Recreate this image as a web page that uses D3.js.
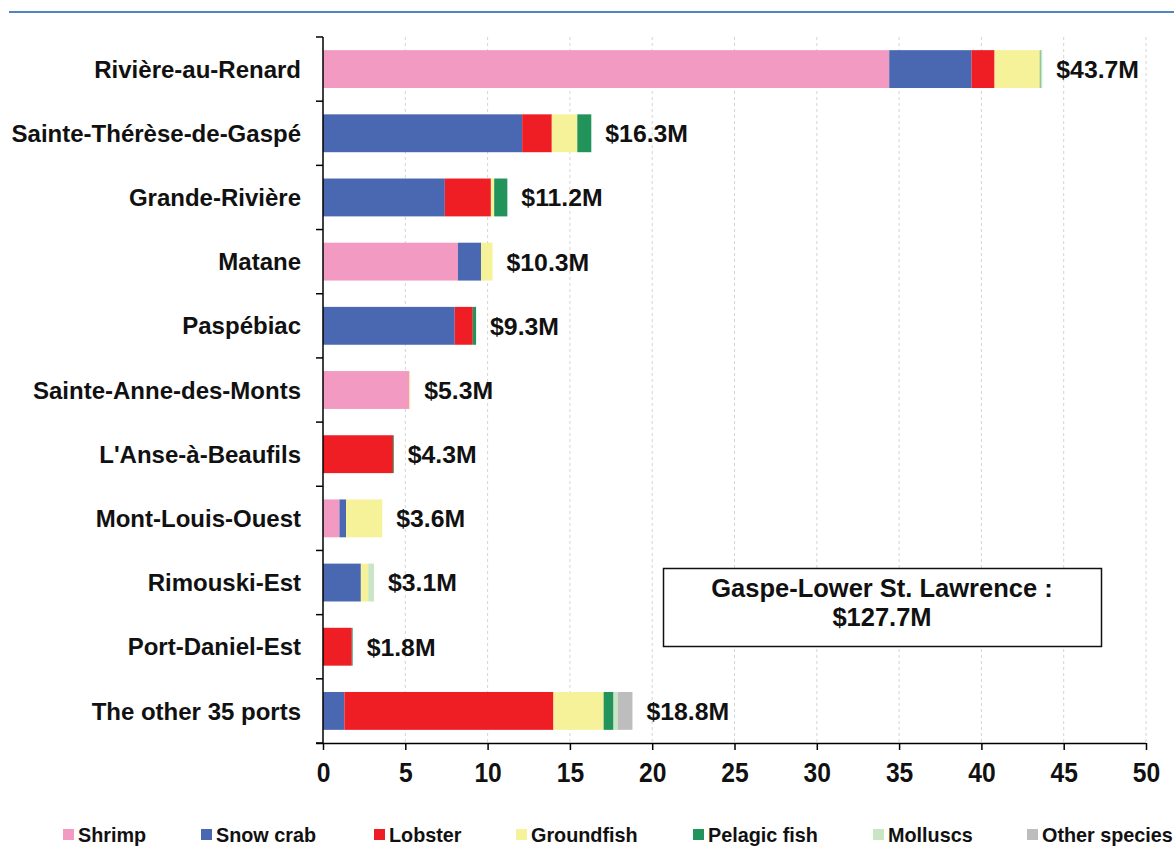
<!DOCTYPE html>
<html>
<head>
<meta charset="utf-8">
<script src="https://cdn.jsdelivr.net/npm/d3@7"></script>
<style>
  html, body { margin: 0; padding: 0; background: #fff; }
  svg { display: block; font-family: "Liberation Sans", Arial, Helvetica, sans-serif; }
</style>
</head>
<body>
<svg id="chart" width="1174" height="846"></svg>
<script>
// Landed value by port (millions of dollars), Gaspé–Lower St. Lawrence
const ports = [
  "Rivière-au-Renard", "Sainte-Thérèse-de-Gaspé", "Grande-Rivière", "Matane",
  "Paspébiac", "Sainte-Anne-des-Monts", "L'Anse-à-Beaufils", "Mont-Louis-Ouest",
  "Rimouski-Est", "Port-Daniel-Est", "The other 35 ports"
];
const shrimp     = [34.4, 0,    0,   8.2, 0,   5.25, 0,    1.0, 0,    0,    0];
const snowCrab   = [5.0,  12.1, 7.4, 1.4, 8.0, 0,    0,    0.4, 2.3,  0,    1.3];
const lobster    = [1.4,  1.8,  2.8, 0,   1.1, 0,    4.25, 0,   0,    1.75, 12.7];
const groundfish = [2.75, 1.55, 0.2, 0.7, 0,   0.05, 0,    2.2, 0.45, 0,    3.05];
const pelagic    = [0.05, 0.85, 0.8, 0,   0.2, 0,    0.05, 0,   0,    0.05, 0.6];
const molluscs   = [0.1,  0,    0,   0,   0,   0,    0,    0,   0.35, 0,    0.25];
const otherSp    = [0,    0,    0,   0,   0,   0,    0,    0,   0,    0,    0.9];
const totals     = [43.7, 16.3, 11.2, 10.3, 9.3, 5.3, 4.3, 3.6, 3.1, 1.8, 18.8];

const speciesNames = ["Shrimp", "Snow crab", "Lobster", "Groundfish", "Pelagic fish", "Molluscs", "Other species"];
const speciesKeys  = ["shrimp", "snowCrab", "lobster", "groundfish", "pelagic", "molluscs", "otherSp"];
const speciesColors = ["#f29ac2", "#4a67b1", "#ee1e24", "#f6f29a", "#23935c", "#c9e6c4", "#bdbdbd"];
const xTicks = [0, 5, 10, 15, 20, 25, 30, 35, 40, 45, 50];
const regionLabel = "Gaspe-Lower St. Lawrence :";
const regionTotal = "$127.7M";

const seriesArrays = { shrimp, snowCrab, lobster, groundfish, pelagic, molluscs, otherSp };
const rows = ports.map((p, i) => {
  const r = { port: p, total: totals[i] };
  speciesKeys.forEach(k => { r[k] = seriesArrays[k][i]; });
  return r;
});

const svg = d3.select("#chart");

const x = d3.scaleLinear().domain([0, 50]).range([323, 1146]);
const y = d3.scaleBand().domain(ports).range([37, 743]).paddingInner(0.41).paddingOuter(0.205);
const color = d3.scaleOrdinal().domain(speciesKeys).range(speciesColors);

// top rule
svg.append("line")
  .attr("x1", 9).attr("x2", 1174).attr("y1", 12).attr("y2", 12)
  .attr("stroke", "#4f86c0").attr("stroke-width", 2);

// vertical dashed gridlines
svg.append("g").selectAll("line")
  .data(xTicks.slice(1))
  .join("line")
  .attr("x1", d => x(d)).attr("x2", d => x(d))
  .attr("y1", 37).attr("y2", 743)
  .attr("stroke", "#d4d4d4").attr("stroke-width", 1)
  .attr("stroke-dasharray", "3,3");

// stacked bars
const stack = d3.stack().keys(speciesKeys);
const series = stack(rows);
svg.append("g").selectAll("g")
  .data(series)
  .join("g")
  .attr("fill", d => color(d.key))
  .selectAll("rect")
  .data(d => d.filter(s => s[1] - s[0] > 0))
  .join("rect")
  .attr("x", d => x(d[0]))
  .attr("width", d => x(d[1]) - x(d[0]))
  .attr("y", d => y(d.data.port))
  .attr("height", y.bandwidth());

// y axis: line plus ticks at band boundaries
const yAxisG = svg.append("g");
yAxisG.append("line")
  .attr("x1", x(0)).attr("x2", x(0)).attr("y1", 37).attr("y2", 743)
  .attr("stroke", "#000").attr("stroke-width", 1.5);
const boundaries = d3.range(ports.length + 1).map(i => 37 + i * y.step());
yAxisG.selectAll("line.tick")
  .data(boundaries)
  .join("line")
  .attr("class", "tick")
  .attr("x1", x(0) - 7).attr("x2", x(0))
  .attr("y1", d => d).attr("y2", d => d)
  .attr("stroke", "#000").attr("stroke-width", 1.5);

// category labels
svg.append("g").selectAll("text")
  .data(ports)
  .join("text")
  .attr("x", 301)
  .attr("y", d => y(d) + y.bandwidth() / 2)
  .attr("dy", "0.36em")
  .attr("text-anchor", "end")
  .attr("font-size", 24)
  .attr("font-weight", "bold")
  .attr("fill", "#111")
  .text(d => d);

// value labels at the end of each stack
svg.append("g").selectAll("text")
  .data(rows)
  .join("text")
  .attr("x", d => x(d3.sum(speciesKeys, k => d[k])) + 14)
  .attr("y", d => y(d.port) + y.bandwidth() / 2)
  .attr("dy", "0.36em")
  .attr("font-size", 24.8)
  .attr("font-weight", "bold")
  .attr("fill", "#111")
  .text(d => "$" + d.total.toFixed(1) + "M");

// x axis
const xAxis = d3.axisBottom(x).tickValues(xTicks).tickSize(7).tickPadding(12).tickFormat(d3.format("d"));
const xg = svg.append("g").attr("transform", "translate(0,743)").call(xAxis);
xg.select(".domain").attr("d", `M${x(0) - 7},0.5H${x(50)}`).attr("stroke", "#000").attr("stroke-width", 1.5);
xg.selectAll(".tick line").attr("stroke", "#000").attr("stroke-width", 1.5);
// condensed bold digits
xg.selectAll(".tick text")
  .attr("font-family", "'Liberation Sans', Arial, sans-serif")
  .attr("font-size", 28)
  .attr("font-weight", "bold")
  .attr("fill", "#111")
  .attr("dy", "0.72em")
  .attr("transform", "scale(0.88,1)")
  .attr("x", 0);

// summary box
const box = svg.append("g");
box.append("rect")
  .attr("x", 663.5).attr("y", 568.5).attr("width", 438).attr("height", 78)
  .attr("fill", "#fff").attr("stroke", "#111").attr("stroke-width", 1.5);
box.append("text")
  .attr("x", 882).attr("y", 597)
  .attr("text-anchor", "middle").attr("font-size", 25.5).attr("font-weight", "bold").attr("fill", "#111")
  .text(regionLabel);
box.append("text")
  .attr("x", 882).attr("y", 626)
  .attr("text-anchor", "middle").attr("font-size", 25.5).attr("font-weight", "bold").attr("fill", "#111")
  .text(regionTotal);

// legend
const legendX = [63, 201, 374, 516, 693, 873, 1027];
const legend = svg.append("g");
const li = legend.selectAll("g")
  .data(speciesNames)
  .join("g")
  .attr("transform", (d, i) => `translate(${legendX[i]},829)`);
li.append("rect")
  .attr("width", 11).attr("height", 11)
  .attr("fill", (d, i) => speciesColors[i]);
li.append("text")
  .attr("x", 15).attr("y", 5.5).attr("dy", "0.36em")
  .attr("font-size", 19.8).attr("font-weight", "bold").attr("fill", "#111")
  .text(d => d);
</script>
</body>
</html>
